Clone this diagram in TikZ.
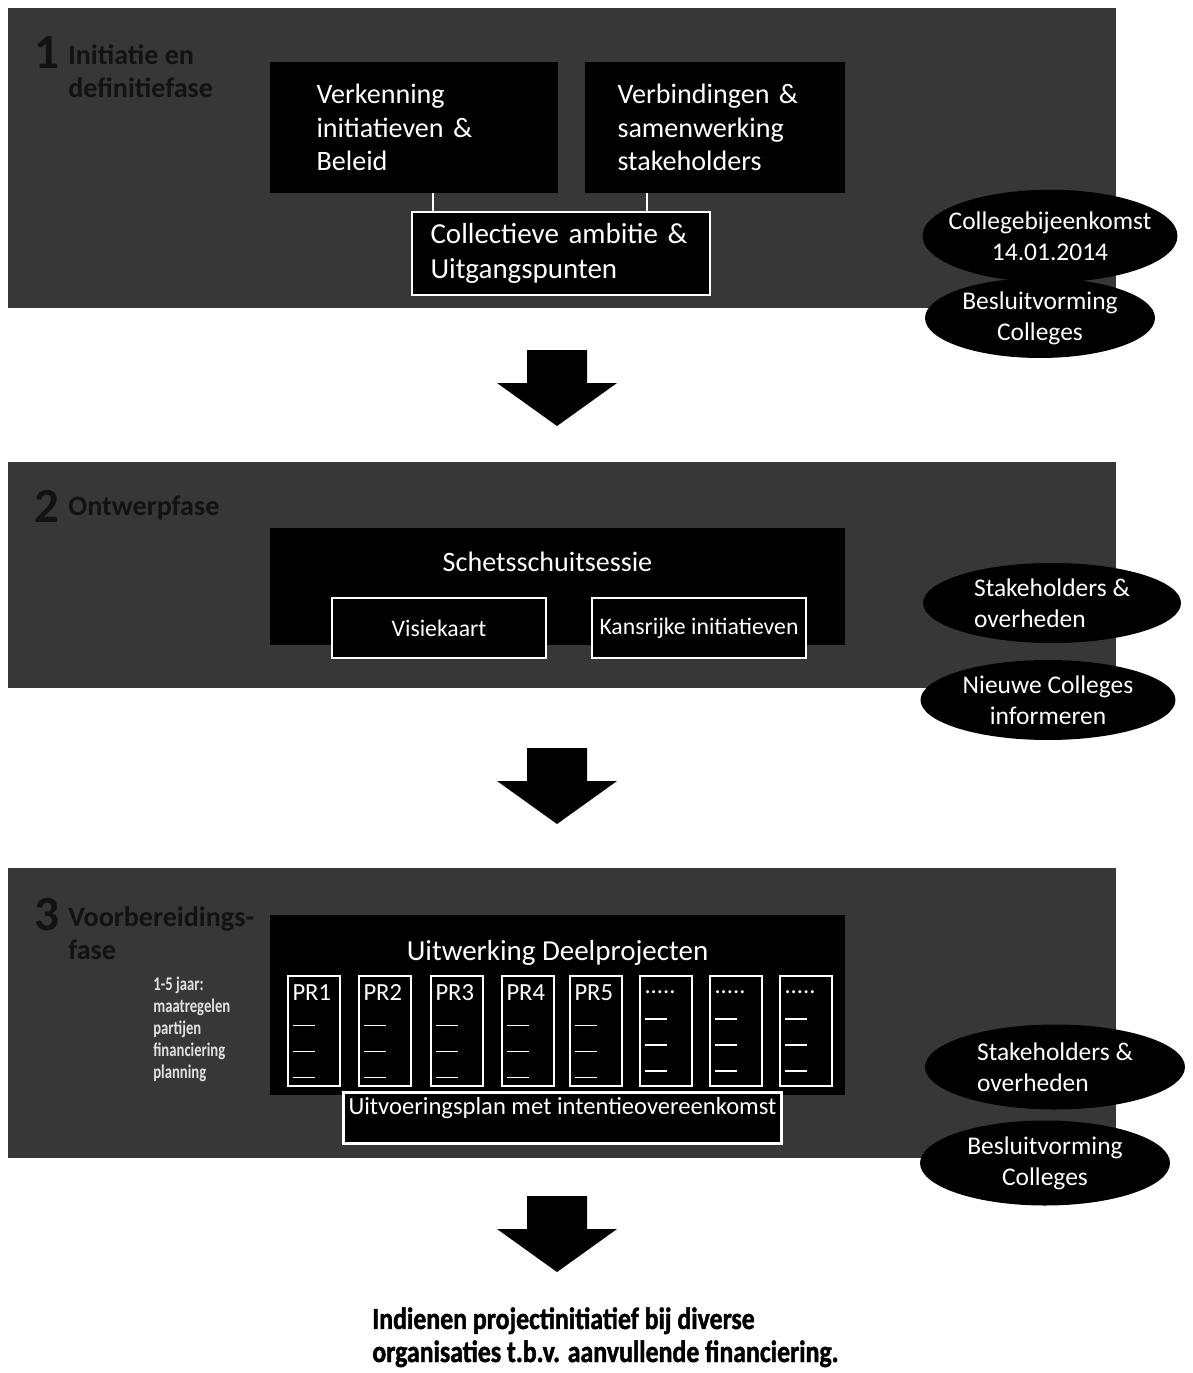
\documentclass[tikz,border=0pt]{standalone}
\usepackage{fontspec}
\setmainfont{Carlito}
\newfontfamily\condfont[FakeStretch=0.76]{Carlito}
\newfontfamily\finfont[FakeStretch=0.84,FakeBold=1.4]{Carlito}
\usetikzlibrary{shapes,positioning}
\definecolor{panelgrey}{RGB}{55,55,55}
\definecolor{titlegrey}{RGB}{18,18,18}
\definecolor{notegrey}{RGB}{225,225,225}

\begin{document}
\begin{tikzpicture}[x=0.02cm, y=-0.02cm, every node/.style={font=\fontsize{16}{19}\selectfont},
    panel/.style={fill=panelgrey, anchor=north west, inner sep=0pt, minimum width=22.16cm},
    blackbox/.style={fill=black, text=white, inner sep=0pt},
    whitebox/.style={fill=black, draw=white, line width=1.3pt, text=white},
    prbox/.style={whitebox, anchor=north, minimum width=1.04cm, minimum height=2.2cm, text width=0.86cm, inner xsep=0.09cm, align=left, font=\fontsize{14}{14.8}\selectfont},
    oval/.style={ellipse, fill=black, text=white, inner sep=-0.45cm, font=\fontsize{14.5}{17.5}\selectfont},
    phase/.style={text=titlegrey, anchor=north west, inner sep=0pt, align=left, font=\bfseries\fontsize{16}{19}\selectfont},
    phasenr/.style={text=titlegrey, anchor=north west, inner sep=0pt, font=\bfseries\fontsize{28}{28}\selectfont},
    link/.style={-, white, line width=1.3pt},
    downarrow/.pic={\fill[black] (-30,0) -- (30,0) -- (30,33) -- (60,33) -- (0,76) -- (-60,33) -- (-30,33) -- cycle;}]

  \fill[white] (0,0) rectangle (1193,1373);
  \useasboundingbox (0,0) rectangle (1193,1373);

  % fase 1
  \node[panel, minimum height=6cm] (ph1) at (8,8) {};
  \node[phasenr] (nr1) at (34,36) {1};
  \node[phase] (t1) at (68,44) {Initiatie en\\definitiefase};
  \node[blackbox, minimum width=5.76cm, minimum height=2.62cm, text width=3.9cm, align=left] (verk) at (414,127.5) {Verkenning\\initiatieven \&\\Beleid};
  \node[blackbox, minimum width=5.2cm, minimum height=2.62cm, text width=3.9cm, align=left] (verb) at (715,127.5) {Verbindingen \&\\samenwerking\\stakeholders};
  \node[whitebox, minimum width=5.96cm, minimum height=1.66cm, text width=5.22cm, inner xsep=0.37cm, inner ysep=0pt, align=left, font=\fontsize{16.5}{19.5}\selectfont] (coll) at (561,253.5) {Collectieve ambitie \&\\Uitgangspunten};
  \coordinate (l1) at (433,0);
  \coordinate (l2) at (647,0);
  \path[link] (verk.south -| l1) edge (coll.north -| l1);
  \path[link] (verb.south -| l2) edge (coll.north -| l2);
  \node[oval, minimum width=5.1cm, minimum height=1.85cm, align=center] (e1) at (1050,236) {Collegebijeenkomst\\14.01.2014};
  \node[oval, minimum width=4.6cm, minimum height=1.6cm, align=center] (e2) at (1040,318) {Besluitvorming\\Colleges};

  \pic at (557,350) {downarrow};

  % fase 2
  \node[panel, minimum height=4.52cm] (ph2) at (8,462) {};
  \node[phasenr] (nr2) at (34,490) {2};
  \node[phase] (t2) at (68,496) {Ontwerpfase};
  \node[blackbox, minimum width=11.5cm, minimum height=2.34cm] (schets) at (557.5,586.5) {};
  \node[text=white] (schetslbl) [below=0.36cm of schets.north, xshift=-0.2cm] {Schetsschuitsessie};
  \node[whitebox, minimum width=4.28cm, minimum height=1.2cm, font=\fontsize{13.5}{16}\selectfont] (visie) at (439,628) {Visiekaart\hspace{0.3cm}};
  \node[whitebox, minimum width=4.28cm, minimum height=1.2cm, font=\fontsize{13.5}{16}\selectfont] (kans) at (699,628) {Kansrijke initiatieven};
  \node[oval, minimum width=5.16cm, minimum height=1.6cm, align=left] (e3) at (1052,603) {Stakeholders \&\\overheden};
  \node[oval, minimum width=5.1cm, minimum height=1.6cm, align=center] (e4) at (1048,700) {Nieuwe Colleges\\informeren};

  \pic at (557,748) {downarrow};

  % fase 3
  \node[panel, minimum height=5.8cm] (ph3) at (8,868) {};
  \node[phasenr] (nr3) at (34,898) {3};
  \node[phase] (t3) at (68,906) {Voorbereidings-\\fase};
  \node[blackbox, minimum width=11.5cm, minimum height=3.6cm] (uitw) at (557.5,1005) {};
  \node[text=white, font=\fontsize{16.5}{19}\selectfont] (uitwlbl) [below=0.38cm of uitw.north] {Uitwerking Deelprojecten};
  \node[text=notegrey, anchor=north west, inner sep=0pt, align=left, font=\condfont\bfseries\fontsize{11}{12.5}\selectfont] (jaar) at (153,977) {1-5 jaar:\\maatregelen\\partijen\\financiering\\planning};
  \node[prbox] (pr1) at (314,975) {PR1\\\rule{0.45cm}{0.6pt}\\\rule{0.45cm}{0.6pt}\\\rule{0.45cm}{0.6pt}};
  \node[prbox] (pr2) at (385,975) {PR2\\\rule{0.45cm}{0.6pt}\\\rule{0.45cm}{0.6pt}\\\rule{0.45cm}{0.6pt}};
  \node[prbox] (pr3) at (457,975) {PR3\\\rule{0.45cm}{0.6pt}\\\rule{0.45cm}{0.6pt}\\\rule{0.45cm}{0.6pt}};
  \node[prbox] (pr4) at (528,975) {PR4\\\rule{0.45cm}{0.6pt}\\\rule{0.45cm}{0.6pt}\\\rule{0.45cm}{0.6pt}};
  \node[prbox] (pr5) at (596,975) {PR5\\\rule{0.45cm}{0.6pt}\\\rule{0.45cm}{0.6pt}\\\rule{0.45cm}{0.6pt}};
  \node[prbox] (pr6) at (666,975) {.....\\\rule{0.45cm}{0.6pt}\\\rule{0.45cm}{0.6pt}\\\rule{0.45cm}{0.6pt}};
  \node[prbox] (pr7) at (736,975) {.....\\\rule{0.45cm}{0.6pt}\\\rule{0.45cm}{0.6pt}\\\rule{0.45cm}{0.6pt}};
  \node[prbox] (pr8) at (806,975) {.....\\\rule{0.45cm}{0.6pt}\\\rule{0.45cm}{0.6pt}\\\rule{0.45cm}{0.6pt}};
  \node[whitebox, minimum width=8.62cm, inner xsep=0.1cm, inner ysep=0.07cm, text height=0.36cm, text depth=0.52cm, font=\fontsize{14}{16}\selectfont] (plan) at (562.5,1118) {Uitvoeringsplan met intentieovereenkomst};
  \node[oval, minimum width=5.2cm, minimum height=1.7cm, align=left] (e5) at (1055,1067) {Stakeholders \&\\overheden};
  \node[oval, minimum width=5cm, minimum height=1.7cm, align=center] (e6) at (1045,1163) {Besluitvorming\\Colleges};

  \pic at (557,1196) {downarrow};

  \node[anchor=north west, inner sep=0pt, align=left, font=\finfont\bfseries\fontsize{17.5}{18.8}\selectfont] (fin) at (372,1307) {Indienen projectinitiatief bij diverse\\organisaties t.b.v. aanvullende financiering.};
\end{tikzpicture}
\end{document}
